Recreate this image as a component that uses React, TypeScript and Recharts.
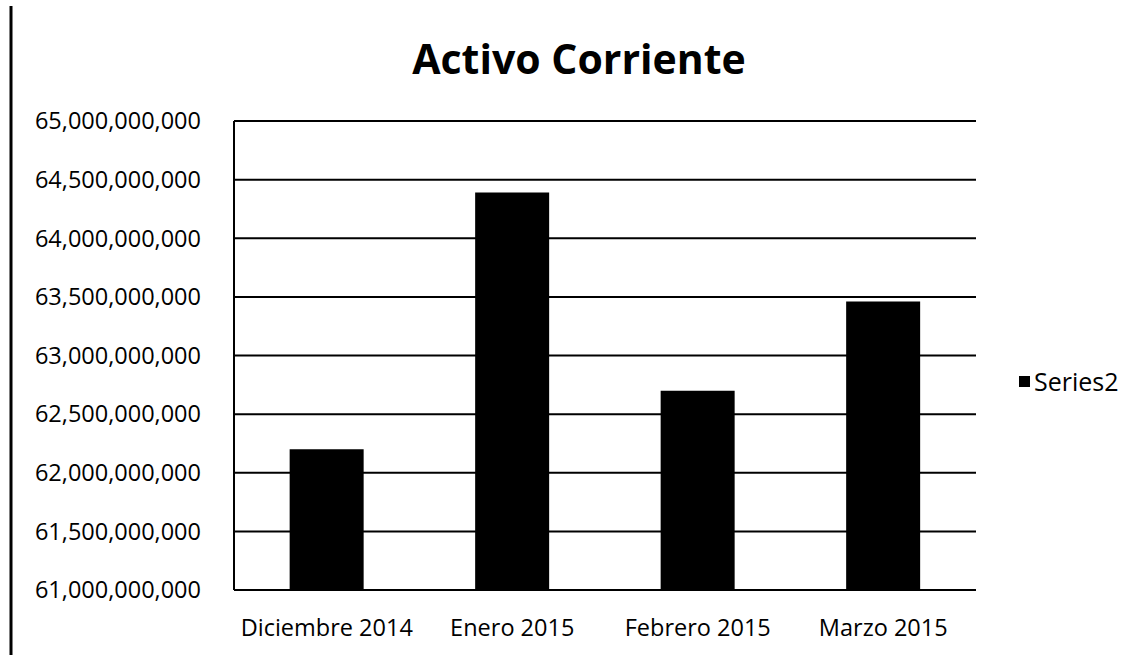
import React from 'react';
import { BarChart, Bar, XAxis, YAxis, CartesianGrid, Legend } from 'recharts';

const categories = ['Diciembre 2014', 'Enero 2015', 'Febrero 2015', 'Marzo 2015'];
const series2 = [62200000000, 64390000000, 62700000000, 63460000000];
const yTicks = [61000000000, 61500000000, 62000000000, 62500000000, 63000000000, 63500000000, 64000000000, 64500000000, 65000000000];
const seriesName = 'Series2';
const title = 'Activo Corriente';

const data = categories.map((c, i) => ({ name: c, value: series2[i] }));

const FONT = '"Open Sans", "Noto Sans", sans-serif';
const fmt = (v: number) => v.toLocaleString('en-US');

const LegendContent = (props: any) => {
  const p = (props.payload || [])[0];
  return (
    <div style={{ display: 'flex', alignItems: 'center', fontFamily: FONT, fontSize: 25, color: '#000', whiteSpace: 'nowrap' }}>
      <span style={{ display: 'inline-block', width: 11, height: 11, background: '#000', marginRight: 4 }} />
      <span>{p ? p.value : seriesName}</span>
    </div>
  );
};

export default function App() {
  return (
    <div style={{ position: 'absolute', left: 0, top: 0, width: 1134, height: 655, background: '#fff' }}>
      <BarChart
        width={1134}
        height={655}
        data={data}
        margin={{ top: 121, right: 158, bottom: 25, left: 0 }}
        barCategoryGap="30%"
      >
        <CartesianGrid horizontal={true} vertical={false} stroke="#000" strokeWidth={2} />
        <XAxis
          dataKey="name"
          height={40}
          axisLine={{ stroke: '#000', strokeWidth: 2 }}
          tickLine={false}
          tickSize={0}
          tickMargin={29}
          tick={{ fill: '#000', fontSize: 23.5, fontFamily: FONT }}
          interval={0}
        />
        <YAxis
          width={234}
          domain={[61000000000, 65000000000]}
          ticks={yTicks}
          tickFormatter={fmt}
          axisLine={{ stroke: '#000', strokeWidth: 2 }}
          tickLine={false}
          tickSize={0}
          tickMargin={33}
          tick={{ fill: '#000', fontSize: 23.5, fontFamily: FONT }}
          allowDataOverflow={true}
        />
        <Legend
          layout="horizontal"
          align="center"
          verticalAlign="middle"
          wrapperStyle={{ left: 1019, top: 364, width: 115 }}
          content={<LegendContent />}
        />
        <Bar dataKey="value" name={seriesName} fill="#000" isAnimationActive={false} />
      </BarChart>
      <svg width={1134} height={655} style={{ position: 'absolute', left: 0, top: 0, pointerEvents: 'none' }}>
        <line x1={11} y1={6} x2={11} y2={655} stroke="#000" strokeWidth={3} />
        <text x={579} y={74} textAnchor="middle" fontFamily={FONT} fontWeight={700} fontSize={41} fill="#000">
          {title}
        </text>
      </svg>
    </div>
  );
}
